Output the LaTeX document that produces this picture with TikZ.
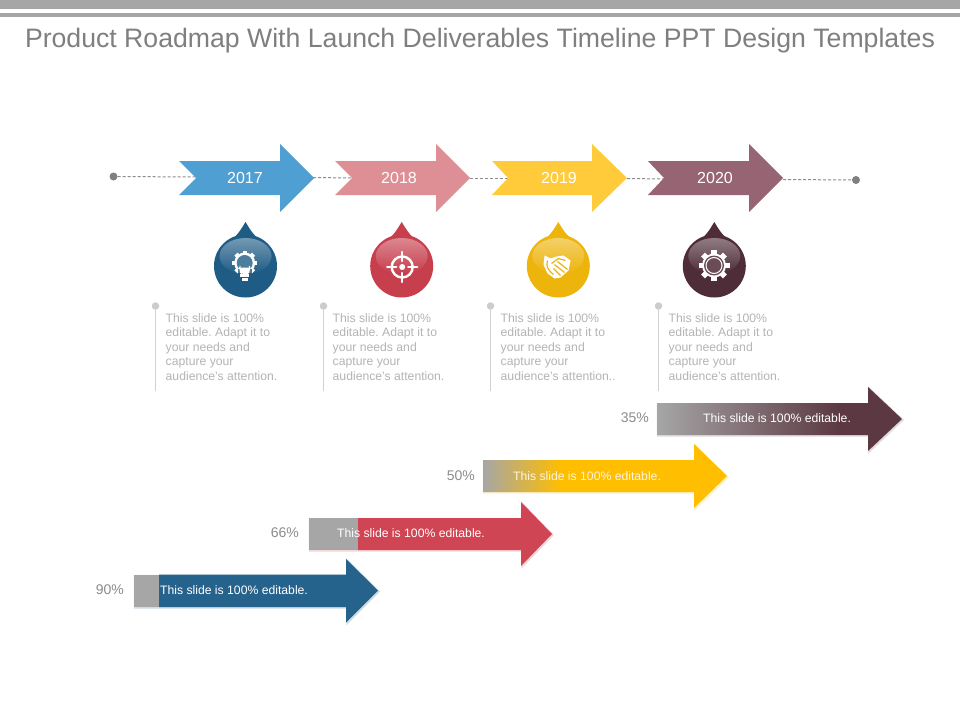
\documentclass[tikz,border=0pt]{standalone}
\usepackage{fontspec}
\setmainfont{Liberation Sans}
\usetikzlibrary{fadings,calc}
\frenchspacing
\definecolor{barc}{HTML}{A6A6A6}
\definecolor{titlec}{HTML}{7F7F7F}
\definecolor{bodyc}{HTML}{B4B4B4}
\definecolor{pctc}{HTML}{8C8C8C}
\definecolor{c17}{HTML}{4F9FD3}
\definecolor{c18}{HTML}{DE8F96}
\definecolor{c19}{HTML}{FFCB3A}
\definecolor{c20}{HTML}{976474}
\definecolor{pblue}{HTML}{1F5C85}
\definecolor{pred}{HTML}{C73E4C}
\definecolor{pyel}{HTML}{EDB40C}
\definecolor{pdark}{HTML}{4E2C38}
\definecolor{bdark}{HTML}{5B3842}
\definecolor{byel}{HTML}{FFBE00}
\definecolor{bred}{HTML}{CF4553}
\definecolor{bblue}{HTML}{25628C}
\pgfdeclarehorizontalshading{darkbar}{100bp}{color(0bp)=(barc); color(25bp)=(barc); color(62.3bp)=(bdark); color(100bp)=(bdark)}
\pgfdeclarehorizontalshading{yelbar}{100bp}{color(0bp)=(barc); color(25bp)=(barc); color(41bp)=(byel); color(100bp)=(byel)}
\tikzset{x=1pt,y=-1pt,
 yeartext/.style={text=white,font=\fontsize{16}{18}\selectfont,inner sep=0pt},
 dashline/.style={draw=gray!90,densely dashed,line width=1pt},
 enddot/.style={circle,fill=black!50,minimum size=8pt,inner sep=0pt},
 smalldot/.style={circle,fill=black!20,minimum size=7.5pt,inner sep=0pt},
 bodytext/.style={text=bodyc,font=\fontsize{12.2}{14.5}\selectfont,align=left,anchor=north west,inner sep=0pt},
 bartext/.style={text=white,font=\fontsize{12.2}{14}\selectfont,inner sep=0pt},
 pcttext/.style={text=pctc,font=\fontsize{14}{16}\selectfont,inner sep=0pt},
 iconw/.style={draw=white,line width=2.4pt},
 glow/.style={line width=1.4pt,line join=miter},
}
\newcommand{\pin}[2]{%
 \fill[#2] (#1-20,243) .. controls (#1-9,238) and (#1-5,230) .. (#1,222) .. controls (#1+5,230) and (#1+9,238) .. (#1+20,243) -- cycle;
 \fill[#2] (#1,266) circle[radius=31.5];
 \fill[white,opacity=0.38,path fading=south] (#1,256) ellipse[x radius=26,y radius=18];
}
\begin{document}
\begin{tikzpicture}
\useasboundingbox (0,0) rectangle (960,720);
\fill[white] (0,0) rectangle (960,720);
\fill[barc] (0,0) rectangle (960,9);
\fill[barc] (0,13) rectangle (960,17);
\node[text=titlec,font=\fontsize{26.65}{30}\selectfont,inner sep=0pt] (title) at (480,41) {Product Roadmap With Launch Deliverables Timeline PPT Design Templates};
% timeline connectors
\node[enddot] (d0) at (113.5,176.5) {};
\node[enddot] (d1) at (856,180) {};
\coordinate (n17) at (196,177); \coordinate (t17) at (313,177.5);
\coordinate (n18) at (352,178); \coordinate (t18) at (470,178);
\coordinate (n19) at (508,178); \coordinate (t19) at (627,178.5);
\coordinate (n20) at (664,179); \coordinate (t20) at (783,179.5);
\draw[dashline] (d0) -- (n17);
\draw[dashline] (t17) -- (n18);
\draw[dashline] (t18) -- (n19);
\draw[dashline] (t19) -- (n20);
\draw[dashline] (t20) -- (d1);
% year arrows
\fill[c17] (179,161) -- (280,161) -- (280,144) -- (314,178) -- (280,212) -- (280,195) -- (179,195) -- (196,178) -- cycle;
\fill[c18] (335,161) -- (436,161) -- (436,144) -- (470,178) -- (436,212) -- (436,195) -- (335,195) -- (352,178) -- cycle;
\fill[c19] (492,161) -- (592,161) -- (592,144) -- (627,178) -- (592,212) -- (592,195) -- (492,195) -- (508,178) -- cycle;
\fill[c20] (648,161) -- (749,161) -- (749,144) -- (783,178) -- (749,212) -- (749,195) -- (648,195) -- (664,178) -- cycle;
\node[yeartext] (y17) at (245,178) {2017};
\node[yeartext] (y18) at (399,178) {2018};
\node[yeartext] (y19) at (559,178) {2019};
\node[yeartext] (y20) at (715,178) {2020};
% pins
\pin{245.5}{pblue}
\pin{401.7}{pred}
\pin{558.3}{pyel}
\pin{714.3}{pdark}
% icon: bulb
\begin{scope}[shift={(244.7,263)}]
 \foreach \a in {0,45,...,315}{\fill[white,rotate=\a] (-2.2,-12.5) rectangle (2.2,-7);}
 \fill[white] (0,0) circle[radius=10.5];
 \fill[pblue!80!white] (0,0) circle[radius=8];
 \draw[white,line width=1pt] (-4.5,3) arc[start angle=215,end angle=-35,radius=5.5];
 \fill[pblue!80!white] (-7,6) rectangle (7,10);
 \fill[white] (-5.5,4.5) -- (5.5,4.5) -- (4.5,10) -- (-4.5,10) -- cycle;
 \fill[white] (-4.5,11) rectangle (4.5,14);
 \fill[white] (-3,15) rectangle (3,17.5);
\end{scope}
% icon: target
\begin{scope}[shift={(402.2,267)}]
 \draw[iconw] (0,0) circle[radius=10.5];
 \draw[iconw,line cap=round] (0,-15) -- (0,-6) (0,6) -- (0,15) (-15,0) -- (-6,0) (6,0) -- (15,0);
 \fill[white] (0,0) circle[radius=3];
\end{scope}
% icon: handshake
\begin{scope}[shift={(557.5,266.5)}]
 \fill[white] (-13,-11) -- (-7,-8) -- (-1,-10) -- (6,-11) -- (13,-6) -- (11,4) -- (3,11) -- (-3,12) -- (-10,7) -- (-14,-2) -- cycle;
 \draw[pyel,line width=1.2pt] (-10,-6) .. controls (-12,0) and (-9,4) .. (-4,8);
 \draw[pyel,line width=1.2pt] (-6,-3) -- (1,-8) -- (8,-6) (-3,-2) -- (7,6) (-4,2) -- (3,9) (0,-5) -- (10,3);
\end{scope}
% icon: gear
\begin{scope}[shift={(714,265.5)}]
 \foreach \a in {0,45,...,315}{\fill[white,rotate=\a] (-2.8,-15.5) rectangle (2.8,-9);}
 \fill[white] (0,0) circle[radius=12];
 \fill[pdark!85!white] (0,0) circle[radius=10];
 \draw[white,line width=1pt] (0,0) circle[radius=8];
\end{scope}
% text columns
\node[smalldot] (s1) at (155.5,306) {};
\node[smalldot] (s2) at (323.5,306) {};
\node[smalldot] (s3) at (490.5,306) {};
\node[smalldot] (s4) at (658.5,306) {};
\coordinate (e1) at (155.5,391); \coordinate (e2) at (323.5,391);
\coordinate (e3) at (490.5,391); \coordinate (e4) at (658.5,391);
\foreach \i in {1,...,4}{\draw[black!18,line width=0.8pt] (s\i) -- (e\i);}
\node[bodytext] (b1) at (165.5,313) {This slide is 100\%\\editable. Adapt it to\\your needs and\\capture your\\audience's attention.};
\node[bodytext] (b2) at (332.5,313) {This slide is 100\%\\editable. Adapt it to\\your needs and\\capture your\\audience's attention.};
\node[bodytext] (b3) at (500.5,313) {This slide is 100\%\\editable. Adapt it to\\your needs and\\capture your\\audience's attention..};
\node[bodytext] (b4) at (668.5,313) {This slide is 100\%\\editable. Adapt it to\\your needs and\\capture your\\audience's attention.};
% bottom arrows: dark
\draw[glow,draw=bdark!18,fill=bdark!18] (657.5,404) -- (869,404) -- (869,388) -- (903,420) -- (869,452) -- (869,436) -- (657.5,436) -- cycle;
\path[shading=darkbar] (657,403) -- (868,403) -- (868,387) -- (902,419) -- (868,451) -- (868,435) -- (657,435) -- cycle;
\node[bartext] (a35) at (777,418.5) {This slide is 100\% editable.};
\node[pcttext,anchor=east] (p35) at (649,418) {35\%};
% yellow
\draw[glow,draw=byel!22,fill=byel!22] (483.5,461) -- (695,461) -- (695,445) -- (728,477) -- (695,509) -- (695,493) -- (483.5,493) -- cycle;
\path[shading=yelbar] (483,460) -- (694,460) -- (694,444) -- (727,476) -- (694,508) -- (694,492) -- (483,492) -- cycle;
\node[bartext,text=white!85!byel] (a50) at (587,476.5) {This slide is 100\% editable.};
\node[pcttext,anchor=east] (p50) at (475,476) {50\%};
% red
\draw[glow,draw=bred!22,fill=bred!22] (309.5,519) -- (522,519) -- (522,503) -- (553,535) -- (522,567) -- (522,551) -- (309.5,551) -- cycle;
\fill[barc] (309,518) rectangle (358.5,550);
\fill[bred] (358,518) -- (521,518) -- (521,502) -- (552,534) -- (521,566) -- (521,550) -- (358,550) -- cycle;
\node[bartext] (a66) at (411,533.5) {This slide is 100\% editable.};
\node[pcttext,anchor=east] (p66) at (299,533) {66\%};
% blue
\draw[glow,draw=bblue!22,fill=bblue!22] (134.5,575.5) -- (347,575.5) -- (347,560) -- (379,591.5) -- (347,623.5) -- (347,608) -- (134.5,608) -- cycle;
\fill[barc] (134,574.5) rectangle (159.5,607);
\fill[bblue] (159,574.5) -- (346,574.5) -- (346,559) -- (378,590.5) -- (346,622.5) -- (346,607) -- (159,607) -- cycle;
\node[bartext] (a90) at (234,590.5) {This slide is 100\% editable.};
\node[pcttext,anchor=east] (p90) at (124,590) {90\%};
\end{tikzpicture}
\end{document}
